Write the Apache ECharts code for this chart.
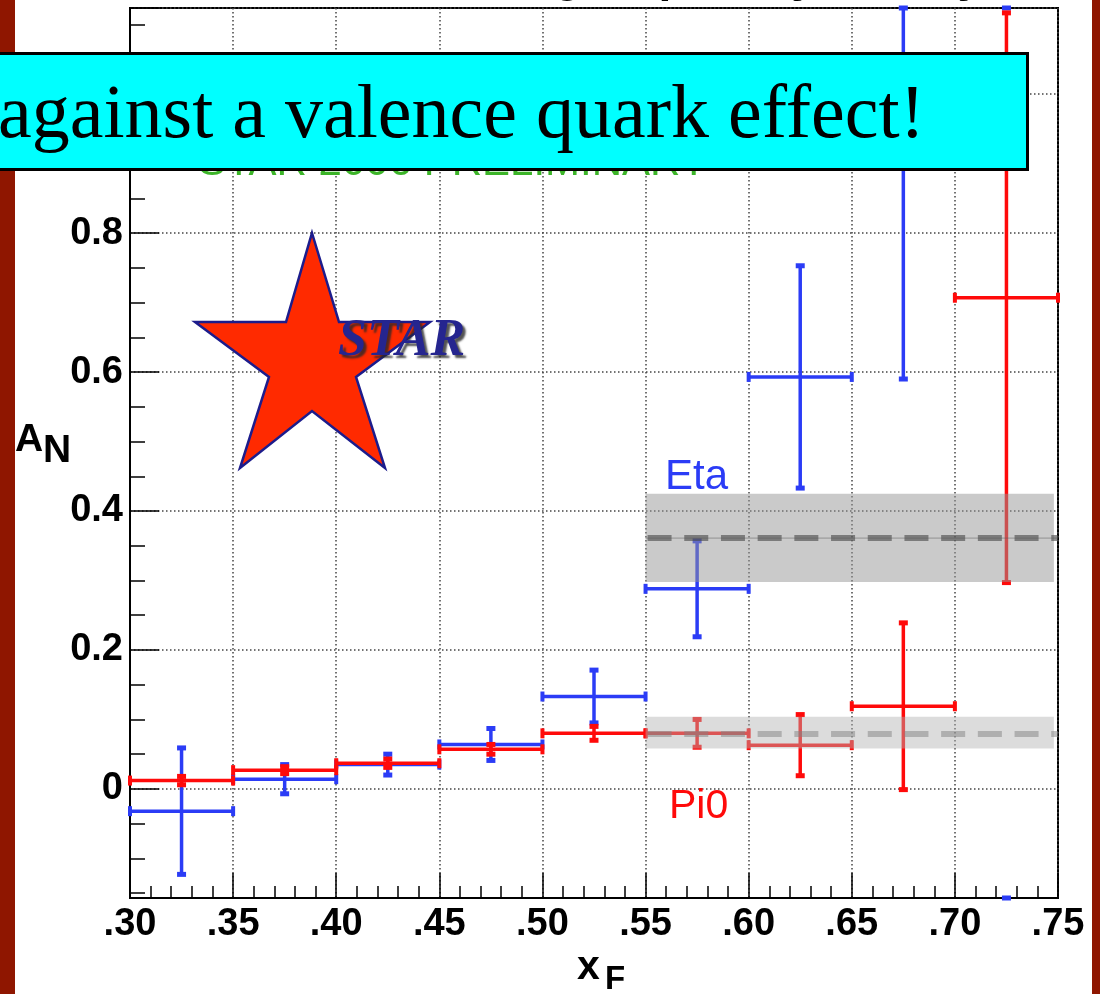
<!DOCTYPE html>
<html><head><meta charset="utf-8">
<script src="https://cdn.jsdelivr.net/npm/echarts@6/dist/echarts.min.js"></script>
<style>html,body{margin:0;padding:0;background:#fff;}#c{width:1100px;height:994px;}</style>
</head><body><div id="c"></div>
<script>
// ---- data ----
const binEdges  = [0.30, 0.35, 0.40, 0.45, 0.50, 0.55, 0.60, 0.65, 0.70, 0.75];
const etaValues = [-0.032, 0.014, 0.035, 0.064, 0.133, 0.288, 0.593, 0.98, 1.25];
const etaErrors = [0.091, 0.021, 0.015, 0.023, 0.038, 0.069, 0.160, 0.39, 1.45];
const pi0Values = [0.012, 0.027, 0.037, 0.057, 0.080, 0.080, 0.063, 0.119, 0.707];
const pi0Errors = [0.006, 0.005, 0.006, 0.007, 0.010, 0.020, 0.044, 0.120, 0.410];
const fitBandX  = [0.55, 0.748];
const fitLineX  = [0.55, 0.75];
const etaFit    = [0.298, 0.361, 0.425];   // low, mean, high
const pi0Fit    = [0.058, 0.079, 0.104];   // low, mean, high
const xRange    = [0.30, 0.75];
const yRange    = [-0.157, 1.124];

const FONT = "'Liberation Sans', Arial, Helvetica, sans-serif";
const BLUE = '#2b3cf6', RED = '#ff0a0a';

function binData(vals, errs) {
  return vals.map((v, i) => [binEdges[i], binEdges[i + 1], v, errs[i]]);
}

// ROOT-like error cross: bars clipped to the frame, end caps drawn at the clamped ends;
// when the point itself lies outside the frame only the clamped caps are drawn.
function errRender(color) {
  return function (params, api) {
    const xl = api.value(0), xh = api.value(1), y = api.value(2), e = api.value(3);
    const xc = (xl + xh) / 2;
    const cs = params.coordSys;
    const top = cs.y, bot = cs.y + cs.height;
    const pL = api.coord([xl, y]), pR = api.coord([xh, y]);
    const pT = api.coord([xc, y + e]), pB = api.coord([xc, y - e]);
    const cx = pT[0];
    const yT = Math.max(pT[1], top), yB = Math.min(pB[1], bot);
    const st = { stroke: color, lineWidth: 3.5 };
    const cap = { stroke: color, lineWidth: 5 };
    const ch = [];
    const yIn = pL[1] >= top && pL[1] <= bot;
    if (yIn) ch.push({ type: 'line', shape: { x1: cx, y1: yT, x2: cx, y2: yB }, style: st });
    ch.push({ type: 'line', shape: { x1: cx - 4.5, y1: yT, x2: cx + 4.5, y2: yT }, style: cap });
    ch.push({ type: 'line', shape: { x1: cx - 4.5, y1: yB, x2: cx + 4.5, y2: yB }, style: cap });
    if (yIn) {
      ch.push({ type: 'line', shape: { x1: pL[0], y1: pL[1], x2: pR[0], y2: pR[1] }, style: st });
      ch.push({ type: 'line', shape: { x1: pL[0], y1: pL[1] - 5, x2: pL[0], y2: pL[1] + 5 }, style: { stroke: color, lineWidth: 4 } });
      ch.push({ type: 'line', shape: { x1: pR[0], y1: pR[1] - 5, x2: pR[0], y2: pR[1] + 5 }, style: { stroke: color, lineWidth: 4 } });
    }
    return { type: 'group', children: ch };
  };
}

function bandRender(fill, dash, thin) {
  return function (params, api) {
    const x0 = api.value(0), x1 = api.value(1), xe = api.value(2);
    const lo = api.value(3), mid = api.value(4), hi = api.value(5);
    const a = api.coord([x0, hi]), b = api.coord([x1, lo]);
    const m0 = api.coord([x0, mid]), m1 = api.coord([xe, mid]);
    const ch = [
      { type: 'rect', shape: { x: a[0], y: a[1], width: b[0] - a[0], height: b[1] - a[1] }, style: { fill: fill } },
      { type: 'line', shape: { x1: m0[0] + 2, y1: m0[1], x2: m1[0], y2: m1[1] }, style: { stroke: dash, lineWidth: 6, lineDash: [24, 12.7] } }
    ];
    if (thin) ch.push({ type: 'line', shape: { x1: m0[0], y1: m0[1], x2: m1[0], y2: m1[1] }, style: { stroke: thin, lineWidth: 1 } });
    return { type: 'group', children: ch };
  };
}

const chart = echarts.init(document.getElementById('c'), null, { renderer: 'canvas' });

const starPts = [[312,233],[339,322],[430,322],[356,377],[385,468],[312,411],[240,468],[269,377],[195,322],[286,322]];

chart.setOption({
  animation: false,
  backgroundColor: '#ffffff',
  grid: { left: 130, right: 42, top: 8, bottom: 96, show: true, borderColor: '#000', borderWidth: 2, backgroundColor: 'transparent' },
  xAxis: {
    type: 'value', min: xRange[0], max: xRange[1], interval: 0.05,
    axisLine: { show: true, onZero: false, lineStyle: { color: '#000', width: 2 } },
    axisTick: { show: true, inside: true, length: 25, lineStyle: { color: '#000', width: 1.5 } },
    minorTick: { show: true, splitNumber: 5, length: 12, lineStyle: { color: '#000', width: 1.5 } },
    splitLine: { show: true, lineStyle: { color: '#444', width: 1.5, type: [1.5, 2.5] } },
    axisLabel: { margin: 8, color: '#000', fontFamily: FONT, fontWeight: 'bold', fontSize: 38,
      formatter: v => v.toFixed(2).replace(/^0/, '') }
  },
  yAxis: {
    type: 'value', min: yRange[0], max: yRange[1], splitNumber: 6,
    axisLine: { show: true, onZero: false, lineStyle: { color: '#000', width: 2 } },
    axisTick: { show: true, inside: true, length: 29, lineStyle: { color: '#000', width: 1.5 } },
    minorTick: { show: true, splitNumber: 4, length: 15, lineStyle: { color: '#000', width: 1.5 } },
    splitLine: { show: true, lineStyle: { color: '#444', width: 1.5, type: [1.5, 2.5] } },
    axisLabel: { margin: 7, color: '#000', fontFamily: FONT, fontWeight: 'bold', fontSize: 38,
      showMinLabel: false, showMaxLabel: false,
      formatter: v => (Math.abs(v) < 1e-9 ? '0' : v.toFixed(1)) }
  },
  series: [
    { type: 'custom', name: 'Eta', renderItem: errRender(BLUE), data: binData(etaValues, etaErrors),
      encode: { x: [0, 1], y: 2 }, z: 3 },
    { type: 'custom', name: 'Pi0', renderItem: errRender(RED), data: binData(pi0Values, pi0Errors),
      encode: { x: [0, 1], y: 2 }, z: 4 },
    { type: 'custom', name: 'Eta fit', renderItem: bandRender('rgba(150,150,150,0.5)', 'rgba(70,70,70,0.6)', 'rgba(90,90,90,0.5)'),
      data: [[fitBandX[0], fitBandX[1], fitLineX[1], etaFit[0], etaFit[1], etaFit[2]]], encode: { x: [0, 1], y: 4 }, z: 5 },
    { type: 'custom', name: 'Pi0 fit', renderItem: bandRender('rgba(178,178,178,0.45)', 'rgba(130,130,130,0.5)', null),
      data: [[fitBandX[0], fitBandX[1], fitLineX[1], pi0Fit[0], pi0Fit[1], pi0Fit[2]]], encode: { x: [0, 1], y: 4 }, z: 5 }
  ],
  graphic: [
    { type: 'rect', left: 0, top: 0, shape: { width: 15, height: 994 }, style: { fill: '#8f1600' }, z: 60 },
    { type: 'rect', left: 1092, top: 0, shape: { width: 8, height: 994 }, style: { fill: '#8f1600' }, z: 60 },
    { type: 'text', x: 482, y: -22, style: { text: 'Single spin asymmetry', font: 'bold 46px ' + FONT, fill: '#000', verticalAlign: 'middle' }, z: 1 },
    { type: 'text', x: 198, y: 163, style: { text: 'STAR 2006 PRELIMINARY', font: '42px ' + FONT, fill: '#3cb428', verticalAlign: 'middle' }, z: 20 },
    { type: 'polygon', shape: { points: starPts }, style: { fill: '#ff2a00', stroke: '#1c1c8c', lineWidth: 2.5 }, z: 50 },
    { type: 'text', x: 338, y: 342, style: { text: 'STAR', font: 'italic bold 52px "Liberation Serif", "Times New Roman", serif', fill: '#25258f',
        verticalAlign: 'middle', textShadowColor: 'rgba(40,40,40,0.8)', textShadowOffsetX: 3, textShadowOffsetY: 3, textShadowBlur: 2 }, z: 51 },
    { type: 'text', x: 665, y: 477, style: { text: 'Eta', font: '42px ' + FONT, fill: BLUE, verticalAlign: 'middle' }, z: 20 },
    { type: 'text', x: 669, y: 807, style: { text: 'Pi0', font: '41px ' + FONT, fill: RED, verticalAlign: 'middle' }, z: 20 },
    { type: 'text', x: 15, y: 440, style: { text: 'A', font: 'bold 39px ' + FONT, fill: '#000', verticalAlign: 'middle' }, z: 70 },
    { type: 'text', x: 43, y: 451, style: { text: 'N', font: 'bold 39px ' + FONT, fill: '#000', verticalAlign: 'middle' }, z: 70 },
    { type: 'text', x: 577, y: 968, style: { text: 'x', font: 'bold 41px ' + FONT, fill: '#000', verticalAlign: 'middle' }, z: 20 },
    { type: 'text', x: 605, y: 980, style: { text: 'F', font: 'bold 33px ' + FONT, fill: '#000', verticalAlign: 'middle' }, z: 20 },
    { type: 'rect', left: -10, top: 52, shape: { width: 1036, height: 116 }, style: { fill: '#00ffff', stroke: '#000', lineWidth: 3 }, z: 100 },
    { type: 'text', x: -2, y: 117, style: { text: 'against a valence quark effect!', font: '76px "Liberation Serif", "Times New Roman", serif', fill: '#000', verticalAlign: 'middle' }, z: 101 }
  ]
});
</script></body></html>
